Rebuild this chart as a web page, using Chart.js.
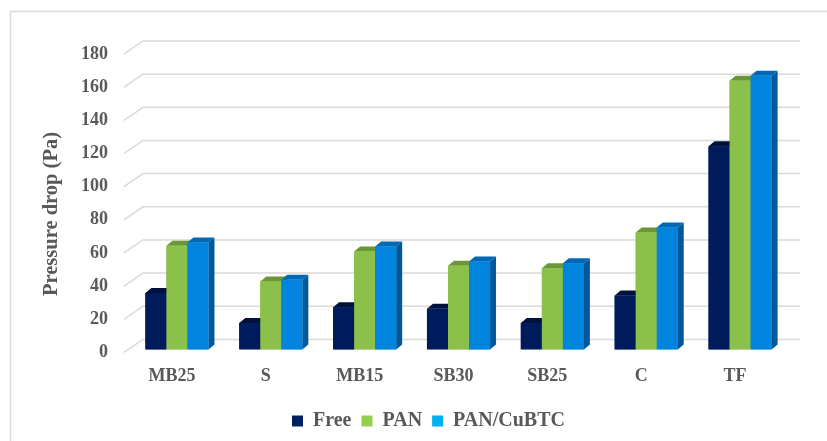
<!DOCTYPE html>
<html>
<head>
<meta charset="utf-8">
<script src="https://cdn.jsdelivr.net/npm/chart.js@4.4.1/dist/chart.umd.min.js"></script>
<style>
  html, body { margin: 0; padding: 0; background: #fff; }
  #wrap { width: 827px; height: 441px; position: relative; }
</style>
</head>
<body>
<div id="wrap"><canvas id="mycanvas"></canvas></div>
<script>
var categories = ['MB25', 'S', 'MB15', 'SB30', 'SB25', 'C', 'TF'];
var freeDrop = [34, 16, 25.5, 24.5, 16, 32.5, 122.5];
var panDrop = [62.5, 41, 59, 50.5, 49, 70.5, 162];
var cubtcDrop = [64.5, 42, 62, 53, 52, 73.5, 165];
var yTicks = [0, 20, 40, 60, 80, 100, 120, 140, 160, 180];
var yTitle = 'Pressure drop (Pa)';

var serif = "'Times New Roman', 'Liberation Serif', serif";
var grey = '#595959';

// front, top and side shades for each series, plus the legend swatch
var shades = [
	{ front: '#001b5c', top: '#00113d', side: '#000e33', key: '#002060' },
	{ front: '#8bc04b', top: '#6b9636', side: '#5d832e', key: '#92d050' },
	{ front: '#0084de', top: '#0068b4', side: '#00589a', key: '#00b0f0' }
];
var depthX = 6, depthY = 5;

// border, back-wall grid with its slanted floor lines, axis title
var wallPlugin = {
	id: 'wall',
	beforeDraw: function(chart) {
		var c = chart.ctx;
		c.save();
		c.strokeStyle = '#d9d9d9';
		c.lineWidth = 1.5;
		c.beginPath();
		c.moveTo(10.5, chart.height);
		c.lineTo(10.5, 11.5);
		c.lineTo(chart.width, 11.5);
		c.stroke();
		c.restore();
	},
	beforeDatasetsDraw: function(chart) {
		var c = chart.ctx, y = chart.scales.y, a = chart.chartArea;
		c.save();
		c.strokeStyle = '#d9d9d9';
		c.lineWidth = 1.5;
		yTicks.forEach(function(v) {
			var p = y.getPixelForValue(v);
			c.beginPath();
			c.moveTo(a.left - 6, p + 3);
			c.lineTo(a.left + 13, p - 10);
			c.lineTo(a.right + 13, p - 10);
			c.stroke();
		});
		c.restore();
	},
	afterDraw: function(chart) {
		var c = chart.ctx;
		c.save();
		c.translate(52, 214);
		c.rotate(-Math.PI / 2);
		c.font = 'bold 20.5px ' + serif;
		c.fillStyle = grey;
		c.textAlign = 'center';
		c.textBaseline = 'middle';
		c.fillText(yTitle, 0, 0);
		c.restore();
	}
};

function poly(c, pts, fill) {
	c.beginPath();
	c.moveTo(pts[0][0], pts[0][1]);
	for (var i = 1; i < pts.length; i++) c.lineTo(pts[i][0], pts[i][1]);
	c.closePath();
	c.fillStyle = fill;
	c.fill();
}

// redraw every column as a block: side, top, then front
var blockPlugin = {
	id: 'blocks',
	afterDatasetsDraw: function(chart) {
		var c = chart.ctx;
		c.save();
		for (var i = 0; i < categories.length; i++) {
			for (var d = 0; d < chart.data.datasets.length; d++) {
				var bar = chart.getDatasetMeta(d).data[i];
				var s = shades[d];
				var l = bar.x - bar.width / 2, r = bar.x + bar.width / 2;
				var t = bar.y, b = bar.base;
				poly(c, [[r, t], [r + depthX, t - depthY], [r + depthX, b - depthY], [r, b]], s.side);
				poly(c, [[l, t], [l + depthX, t - depthY], [r + depthX, t - depthY], [r, t]], s.top);
				poly(c, [[l, t], [r, t], [r, b], [l, b]], s.front);
			}
		}
		c.restore();
	}
};

var chartdata = {
	labels: categories,
	datasets: [
		{ label: 'Free', data: freeDrop, backgroundColor: shades[0].front },
		{ label: 'PAN', data: panDrop, backgroundColor: shades[1].front },
		{ label: 'PAN/CuBTC', data: cubtcDrop, backgroundColor: shades[2].front }
	]
};

var ctx = document.getElementById('mycanvas');

var barGraph = new Chart(ctx, {
	type: 'bar',
	data: chartdata,
	plugins: [wallPlugin, blockPlugin],
	options: {
		responsive: true,
		maintainAspectRatio: false,
		animation: false,
		layout: { padding: { top: 51, right: 40, left: 70, bottom: 0 } },
		datasets: {
			bar: { categoryPercentage: 0.672, barPercentage: 1, borderWidth: 0 }
		},
		scales: {
			x: {
				afterFit: function(scale) { scale.height = scale.height - 2; },
				grid: { display: false, drawTicks: false },
				border: { display: false },
				ticks: {
					color: grey,
					font: { family: serif, size: 18, weight: 'bold' },
					padding: 16,
					labelOffset: -5
				}
			},
			y: {
				min: 0,
				max: 180,
				afterFit: function(scale) { scale.width = 60; },
				afterBuildTicks: function(scale) {
					scale.ticks = yTicks.map(function(v) { return { value: v }; });
				},
				grid: { display: false, drawTicks: false },
				border: { display: false },
				ticks: {
					color: grey,
					font: { family: serif, size: 18, weight: 'bold' },
					padding: 22,
					labelOffset: 3
				}
			}
		},
		plugins: {
			tooltip: { enabled: false },
			legend: {
				position: 'bottom',
				labels: {
					color: grey,
					font: { family: serif, size: 20, weight: 'bold' },
					boxWidth: 11,
					boxHeight: 11,
					padding: 10,
					generateLabels: function(chart) {
						var items = Chart.defaults.plugins.legend.labels.generateLabels(chart);
						items.forEach(function(it, k) {
							it.fillStyle = shades[k].key;
							it.strokeStyle = shades[k].key;
							it.lineWidth = 0;
						});
						return items;
					}
				}
			}
		}
	}
});
</script>
</body>
</html>
